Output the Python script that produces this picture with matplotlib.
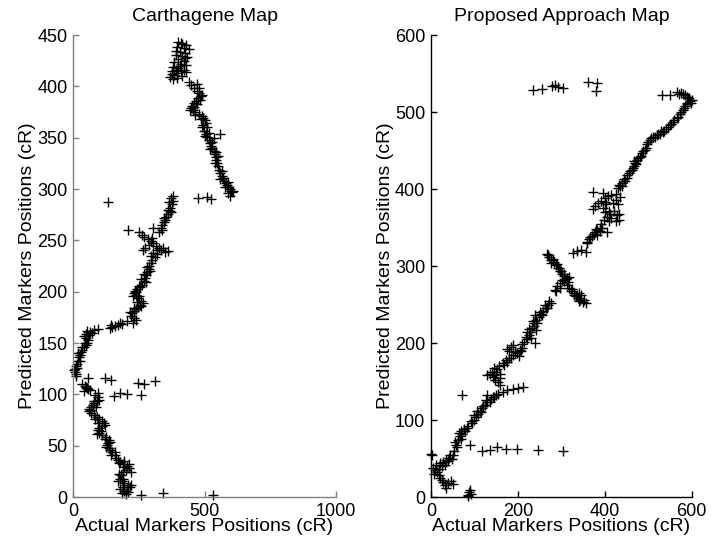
import matplotlib
matplotlib.use("Agg")
import matplotlib.pyplot as plt

plt.rcParams['font.family'] = ['Liberation Sans', 'DejaVu Sans']

# Carthagene map: actual vs predicted marker positions (cR)
carth_actual = [
    400, 415, 430, 395, 420, 440, 405, 425, 390, 415, 435, 400, 420, 385, 410, 430, 380, 400, 420, 375,
    395, 430, 385, 370, 395, 415, 380,
    440, 450, 460, 470, 480, 485, 475, 468, 460, 452, 448, 455, 465, 478, 490, 495, 500, 505, 495, 490,
    498, 505, 510, 515, 520, 525, 530, 535, 538, 542, 545, 548, 552, 556, 560, 565, 570, 575, 580, 585,
    590, 595, 600, 605, 590,
    559, 475, 510, 525, 133,
    372, 380, 375, 370, 368, 362, 355, 350, 345, 340, 333, 304, 209, 250, 262, 270, 285, 295, 305, 315,
    325, 275, 265, 335, 360, 350, 320, 310, 300, 295, 290, 287, 282, 278, 273, 268, 262, 255, 245, 235,
    230, 238, 248, 258, 265, 255, 248, 240, 232, 225, 222, 232, 240, 205, 185, 170, 160, 150, 140, 95,
    80, 65, 50, 40, 48, 58, 55, 48, 42, 36, 30, 26, 22, 18, 14, 10, 8, 6, 10,
    35, 45, 55, 65, 50,
    57, 122, 144, 247, 270, 312, 95, 156, 179, 205, 259,
    85, 95, 90, 80, 75, 68, 62, 60, 68, 78, 90, 100, 110, 118, 110, 100, 95, 100, 112, 125,
    135, 132, 128, 135, 142, 150, 158, 165, 172, 180, 190, 205, 212, 200, 190, 182, 178, 185, 195, 208,
    215, 205, 195, 185, 200,
    259, 342, 532,
    470, 478, 490, 482, 470, 458, 445, 462, 485, 508, 500, 515, 522, 530, 540, 550, 558, 568, 578, 590,
    598, 610, 545, 535,
    410, 390, 425, 405, 390, 375, 410,
    380, 365, 372, 360, 345, 338, 328, 300, 290, 320, 342, 305, 298, 280, 292, 270, 260, 276, 250, 240,
    228, 252, 260, 244, 230, 218, 228, 178, 145, 72, 60, 52, 45, 35, 28, 20, 15, 5, 12,
    58, 42, 100, 88, 70, 78, 85, 95, 120, 105, 90, 120, 140, 125, 145, 160, 175, 195, 212, 220,
    195, 175, 170, 190, 220, 210, 180, 190,
]
carth_predicted = [
    443, 441, 440, 438, 437, 436, 434, 433, 431, 430, 429, 427, 425, 424, 422, 421, 419, 418, 416, 415,
    413, 414, 411, 409, 408, 410, 407,
    404, 401, 398, 396, 394, 391, 389, 386, 384, 381, 379, 377, 375, 373, 371, 369, 367, 364, 362, 360,
    357, 354, 351, 348, 345, 342, 340, 337, 334, 331, 328, 325, 322, 319, 316, 313, 311, 308, 306, 304,
    302, 300, 298, 297, 296,
    354, 291, 292, 290, 287,
    291, 288, 285, 282, 279, 276, 273, 270, 268, 265, 262, 262, 260, 258, 255, 253, 251, 249, 247, 245,
    243, 243, 241, 241, 240, 239, 237, 234, 231, 228, 225, 222, 219, 216, 213, 210, 207, 205, 203, 201,
    199, 197, 194, 191, 189, 187, 185, 183, 181, 179, 176, 174, 172, 171, 169, 168, 167, 166, 165, 164,
    163, 161, 159, 157, 155, 153, 150, 148, 146, 143, 141, 138, 136, 133, 130, 128, 125, 122, 120,
    110, 108, 106, 104, 107,
    116, 116, 114, 111, 110, 113, 101, 98, 101, 100, 99,
    99, 97, 94, 92, 90, 88, 86, 84, 82, 80, 78, 76, 74, 72, 69, 67, 65, 62, 60, 58,
    56, 53, 51, 48, 46, 44, 41, 38, 36, 34, 32, 30, 28, 26, 24, 21, 18, 16, 14, 12,
    10, 8, 6, 4, 3,
    2, 4, 2,
    402, 398, 392, 387, 383, 380, 377, 372, 368, 360, 352, 355, 339, 346, 325, 332, 310, 318, 302, 307,
    293, 298, 336, 350,
    442, 435, 428, 420, 416, 412, 415,
    293, 287, 278, 280, 272, 260, 258, 252, 246, 241, 243, 238, 235, 224, 220, 217, 212, 209, 206, 200,
    196, 196, 186, 190, 184, 180, 170, 170, 168, 160, 158, 162, 150, 146, 133, 140, 126, 124, 118,
    105, 103, 95, 88, 85, 94, 76, 72, 70, 64, 61, 57, 54, 49, 41, 44, 33, 35, 32, 24,
    29, 22, 16, 18, 12, 5, 8, 10,
]

# Proposed approach map
prop_actual = [
    85, 88, 90, 86, 92,
    0, 2,
    5, 10, 14, 8, 18, 22, 25, 28, 32, 35, 40, 46, 50, 12, 20, 28, 35, 42, 50, 54, 58, 62, 66, 72, 70, 76, 90,
    117, 136, 152, 172, 198, 246, 304, 71,
    85, 95, 100, 104, 108, 112, 118, 124, 130, 138, 146, 155, 165, 176, 188, 200, 211,
    130, 136, 142, 148, 154, 160, 158, 150, 145, 156, 165, 172, 180, 190, 198, 205, 210, 175, 185, 215,
    220, 225, 228, 232, 238, 241, 236, 242, 248, 253, 258, 264, 270, 276, 239,
    267, 272, 277, 282, 287, 292, 297, 302, 307, 312, 318, 285, 290, 296, 302, 313, 318, 322, 328, 333,
    338, 343, 349, 356, 335, 326, 336, 345, 356,
    358, 364, 370, 377, 383, 388, 393, 405, 372, 378, 385, 392, 400, 408, 415, 425, 434, 398, 405, 412,
    420, 428, 432, 395, 403, 372, 395, 410, 400,
    430, 435, 439, 445, 451, 456, 462, 466, 469, 474, 480, 486, 492, 498, 503, 510, 519, 526, 533, 540,
    549, 556, 565, 572, 579, 585, 590, 595, 600, 592, 588, 579, 570, 565, 550, 531,
    234, 255, 278, 285, 292, 303, 361, 382, 379,
    25, 32, 18, 40, 44, 48, 60, 56, 64, 70, 78, 82, 92, 100, 106, 115, 120, 126, 135, 142,
    128, 150,
    140, 146, 152, 160, 168, 176, 184, 194, 202, 208, 180, 190, 210, 218, 222, 230, 226, 234, 244, 240,
    250, 256, 262, 268, 272,
    270, 280, 276, 290, 295, 300, 305, 310, 288, 298, 306, 315, 325, 330, 340, 346, 352, 340,
    360, 366, 374, 380, 390, 382, 392, 410, 418, 425, 430, 415, 425, 433, 400,
    432, 440, 447, 452, 458, 464, 468, 472, 477, 484, 488, 495, 500, 506, 515, 522, 530, 537, 545, 552,
    560, 568, 575, 582, 588, 594, 598, 585, 575,
]
prop_predicted = [
    3, 6, 9, 1, 4,
    56, 54,
    38, 35, 32, 30, 28, 25, 22, 19, 15, 12, 18, 21, 17, 42, 44, 46, 48, 51, 54, 60, 68, 74, 79, 82, 86, 88, 68,
    60, 61, 65, 63, 62, 61, 60, 133,
    92, 96, 100, 104, 108, 112, 116, 120, 124, 127, 130, 134, 137, 139, 140, 141, 143,
    158, 160, 156, 152, 149, 146, 155, 163, 167, 170, 174, 178, 181, 184, 187, 191, 194, 192, 195, 201,
    205, 210, 214, 219, 222, 217, 226, 230, 234, 238, 242, 246, 249, 252, 200,
    316, 312, 308, 305, 301, 297, 293, 290, 287, 284, 286, 269, 274, 278, 282, 276, 272, 268, 265, 261,
    258, 256, 253, 252, 262, 317, 320, 321, 318,
    331, 335, 339, 344, 347, 350, 349, 344, 374, 378, 382, 385, 388, 391, 392, 394, 390, 360, 364, 368,
    371, 366, 360, 375, 380, 396, 395, 358, 383,
    401, 404, 408, 413, 418, 421, 425, 430, 434, 438, 442, 447, 451, 458, 464, 467, 470, 472, 474, 478,
    483, 487, 492, 497, 503, 508, 512, 514, 516, 518, 520, 523, 524, 526, 522, 522,
    529, 530, 534, 535, 533, 531, 539, 538, 527,
    40, 42, 36, 47, 55, 49, 65, 72, 83, 76, 86, 90, 99, 106, 112, 110, 118, 126, 124, 130,
    133, 132,
    163, 158, 166, 160, 172, 176, 180, 188, 183, 190, 190, 197, 199, 208, 214, 206, 218, 228, 226, 236,
    240, 236, 250, 245, 254,
    314, 309, 304, 303, 298, 294, 290, 283, 267, 272, 280, 279, 270, 262, 254, 262, 256, 265,
    330, 338, 342, 348, 346, 340, 355, 372, 382, 386, 380, 362, 358, 368, 370,
    405, 404, 411, 414, 424, 428, 436, 432, 441, 443, 449, 454, 461, 466, 468, 471, 476, 476, 481, 485,
    490, 494, 500, 505, 510, 518, 512, 522, 525,
]

panels = [
    dict(x=carth_actual, y=carth_predicted, title="Carthagene Map",
         xlim=(0, 1000), ylim=(0, 450), xticks=[0, 500, 1000],
         yticks=list(range(0, 451, 50)), spine="#808080"),
    dict(x=prop_actual, y=prop_predicted, title="Proposed Approach Map",
         xlim=(0, 600), ylim=(0, 600), xticks=[0, 200, 400, 600],
         yticks=list(range(0, 601, 100)), spine="black"),
]

fig = plt.figure(figsize=(7.11, 5.46), dpi=100)
rects = [[0.1027, 0.0897, 0.370, 0.846], [0.606, 0.0897, 0.367, 0.846]]

for rect, p in zip(rects, panels):
    ax = fig.add_axes(rect)
    ax.plot(p["x"], p["y"], linestyle="none", marker="+", color="black",
            markersize=7, markeredgewidth=1.0, clip_on=False)
    ax.set_xlim(*p["xlim"])
    ax.set_ylim(*p["ylim"])
    ax.set_xticks(p["xticks"])
    ax.set_yticks(p["yticks"])
    for side in ("top", "right"):
        ax.spines[side].set_visible(False)
    for side in ("left", "bottom"):
        ax.spines[side].set_color(p["spine"])
        ax.spines[side].set_linewidth(1.0)
    ax.tick_params(direction="in", length=4, width=1.0, color=p["spine"],
                   labelsize=13, pad=4)
    ax.set_title(p["title"], fontsize=14, pad=10)
    ax.set_xlabel("Actual Markers Positions (cR)", fontsize=14, labelpad=-1)
    ax.set_ylabel("Predicted Markers Positions (cR)", fontsize=14, labelpad=1)

fig.savefig("out.png", dpi=100)
